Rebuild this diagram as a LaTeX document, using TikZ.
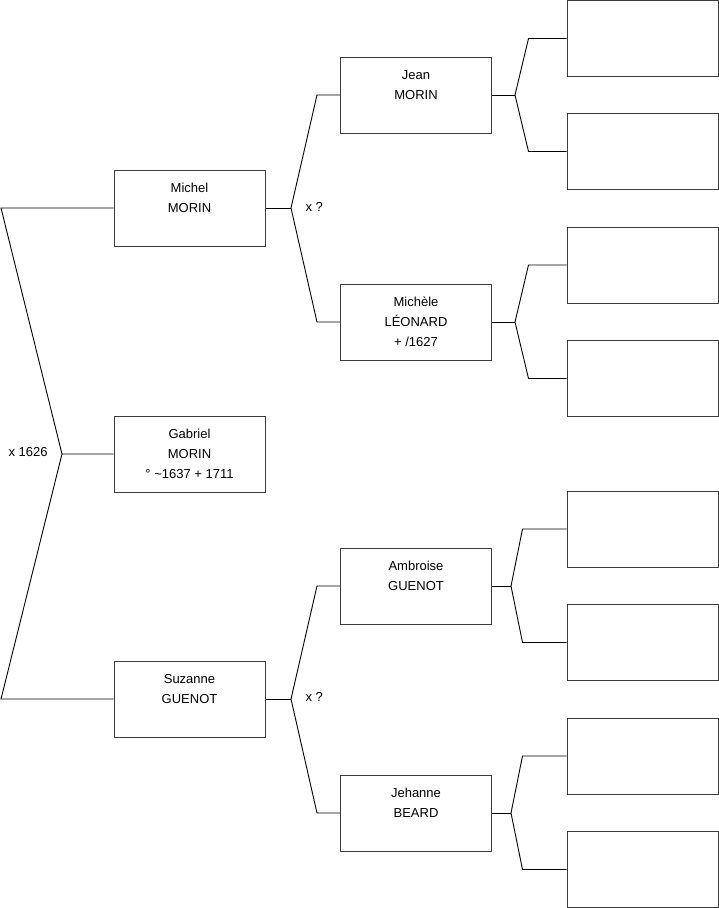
\documentclass[tikz,border=0pt]{standalone}
\usepackage{fontspec}
\setmainfont{Liberation Sans}
\usepackage{tikz}
\usetikzlibrary{positioning,calc}
\definecolor{boxline}{RGB}{60,60,60}

\begin{document}
\begin{tikzpicture}[x=1pt,y=-1pt,
person/.style={rectangle,draw=boxline,line width=1pt,minimum width=151pt,minimum height=76pt,inner sep=0pt,align=center,font=\fontsize{13}{20}\selectfont},
edge/.style={line width=0.9pt,black},
union/.style={anchor=west,font=\fontsize{13}{16}\selectfont}]
\useasboundingbox (0,0) rectangle (719,908);
% generation 1
\node[person] (gabriel) at (189.5,454) {Gabriel\\MORIN\\° \textasciitilde1637 + 1711};
% generation 2
\node[person] (michel) at (189.5,208) {Michel\\MORIN\\\mbox{}};
\node[person] (suzanne) at (189.5,699) {Suzanne\\GUENOT\\\mbox{}};
% generation 3
\node[person] (jean) at (416,95) {Jean\\MORIN\\\mbox{}};
\node[person] (michele) at (416,322) {Michèle\\LÉONARD\\+ /1627};
\node[person] (ambroise) at (416,586) {Ambroise\\GUENOT\\\mbox{}};
\node[person] (jehanne) at (416,813) {Jehanne\\BEARD\\\mbox{}};
% generation 4 (empty)
\node[person] (p1) at (642.5,38.5) {};
\node[person] (p2) at (642.5,151.5) {};
\node[person] (p3) at (642.5,265) {};
\node[person] (p4) at (642.5,378.5) {};
\node[person] (p5) at (642.5,529) {};
\node[person] (p6) at (642.5,642.5) {};
\node[person] (p7) at (642.5,756) {};
\node[person] (p8) at (642.5,869.5) {};
% forks
\coordinate (f0) at (62,454);
\coordinate (r1) at (1,208);
\coordinate (r2) at (1,699);
\coordinate (fmichel) at (291,208);
\coordinate (fsuzanne) at (291,699);
\coordinate (fjean) at (515,95);
\coordinate (fmichele) at (515,322);
\coordinate (fambroise) at (511,586);
\coordinate (fjehanne) at (511,813);
\draw[edge] (michel.west) -- (r1) -- (f0) -- (gabriel.west);
\draw[edge] (f0) -- (r2) -- (suzanne.west);
\node[union] (u0) at (5,452) {x 1626};
\draw[edge] (jean.west) -- ++(-23,0) -- (fmichel) -- ($(michele.west)+(-23,0)$) -- (michele.west);
\draw[edge] (michel.east) -- (fmichel);
\node[union] (u1) at (302,207) {x ?};
\draw[edge] (ambroise.west) -- ++(-23,0) -- (fsuzanne) -- ($(jehanne.west)+(-23,0)$) -- (jehanne.west);
\draw[edge] (suzanne.east) -- (fsuzanne);
\node[union] (u2) at (302,697) {x ?};
\draw[edge] (jean.east) -- (fjean);
\draw[edge] (p1.west) -- ++(-38,0) -- (fjean) -- ($(p2.west)+(-38,0)$) -- (p2.west);
\draw[edge] (michele.east) -- (fmichele);
\draw[edge] (p3.west) -- ++(-38,0) -- (fmichele) -- ($(p4.west)+(-38,0)$) -- (p4.west);
\draw[edge] (ambroise.east) -- (fambroise);
\draw[edge] (p5.west) -- ++(-44,0) -- (fambroise) -- ($(p6.west)+(-44,0)$) -- (p6.west);
\draw[edge] (jehanne.east) -- (fjehanne);
\draw[edge] (p7.west) -- ++(-44,0) -- (fjehanne) -- ($(p8.west)+(-44,0)$) -- (p8.west);
\end{tikzpicture}
\end{document}
